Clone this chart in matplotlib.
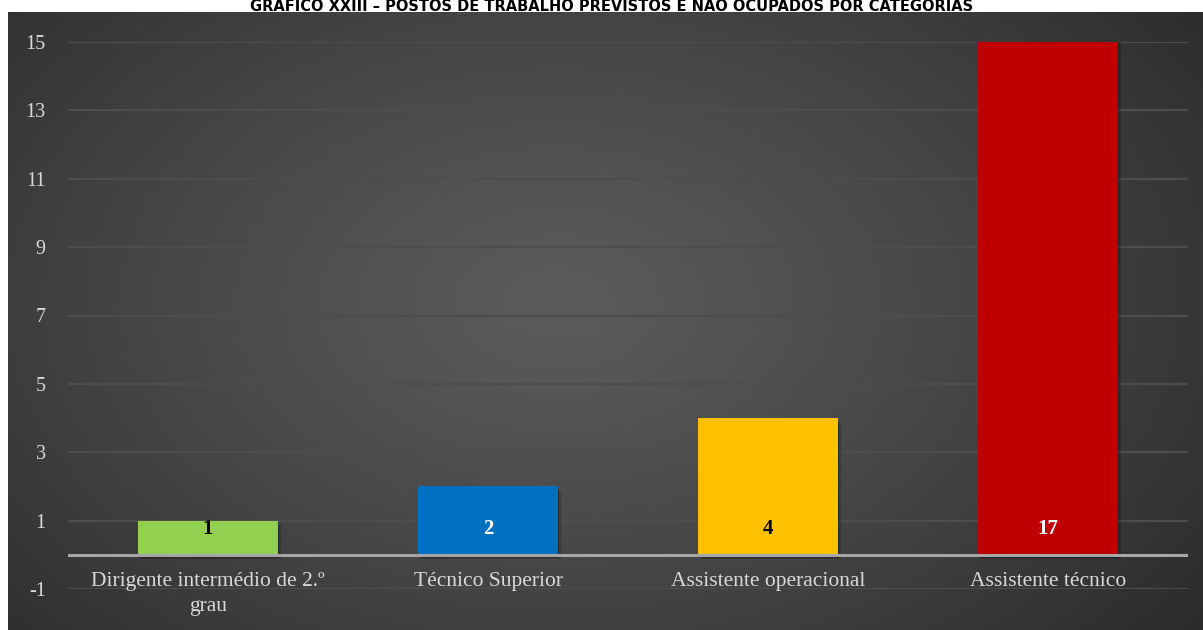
import matplotlib

matplotlib.use("Agg")
import matplotlib.pyplot as plt
import matplotlib.patheffects as pe
import numpy as np

# ---------- Data ----------
categories = ["Dirigente intermédio de 2.º\ngrau", "Técnico Superior",
              "Assistente operacional", "Assistente técnico"]
values = [1, 2, 4, 17]
bar_colors = ["#92d050", "#0070c0", "#ffc000", "#c00000"]
label_colors = ["black", "white", "black", "white"]
yticks = [-1, 1, 3, 5, 7, 9, 11, 13, 15]
title = "GRÁFICO XXIII – POSTOS DE TRABALHO PREVISTOS E NÃO OCUPADOS POR CATEGORIAS"

plt.rcParams["axes.unicode_minus"] = False

W, H = 1203, 630
fig = plt.figure(figsize=(W / 100, H / 100), dpi=100)
fig.patch.set_facecolor("white")

# ---------- radial gradient background ----------
bg = fig.add_axes([8 / W, 0, 1 - 8 / W, (H - 12) / H])
bg.set_axis_off()
gx, gy = np.meshgrid(np.linspace(0, 1, 600), np.linspace(0, 1, 320))
r = np.sqrt(((gx - 0.46) / 0.75) ** 2 + ((gy - 0.47) / 0.95) ** 2)
r = np.clip(r, 0, 1)
inner, outer = 0x5b / 255, 0x25 / 255
shade = inner + (outer - inner) * r ** 1.2
img = np.dstack([shade, shade, shade])
bg.imshow(img, aspect="auto", extent=(0, 1, 0, 1), origin="upper")

# ---------- bars ----------
ax = fig.add_axes([68 / W, (H - 589) / H, (1188 - 68) / W, (589 - 42) / H])
ax.set_facecolor("none")
x = np.arange(len(categories))
bars = ax.bar(x, values, width=0.5, color=bar_colors, zorder=3)
for b in bars:
    b.set_path_effects([pe.SimplePatchShadow(offset=(2, -3), alpha=0.18,
                                             shadow_rgbFace="black"),
                        pe.SimplePatchShadow(offset=(1, -2), alpha=0.25,
                                             shadow_rgbFace="black"),
                        pe.Normal()])

ax.set_xlim(-0.5, len(categories) - 0.5)
ax.set_ylim(-1, 15)
ax.set_yticks(yticks)
ax.set_xticks([])
ax.grid(axis="y", color="#4d4d4d", linewidth=1.6, zorder=0)
ax.axhline(0, color="#a6a6a6", linewidth=2.2, zorder=4)
for s in ax.spines.values():
    s.set_visible(False)
ax.tick_params(axis="y", length=0, colors="#d9d9d9", labelsize=14.5, pad=16)
for lab in ax.get_yticklabels():
    lab.set_family("Liberation Serif")

for xi, val, lc in zip(x, values, label_colors):
    ax.text(xi, 0.75, f"{val}", ha="center", va="center", color=lc,
            fontsize=15, fontweight="bold", family="Liberation Serif", zorder=5)

for xi, cat in zip(x, categories):
    ax.text(xi, -0.5, cat, ha="center", va="top", color="#d9d9d9",
            fontsize=15.5, family="Liberation Serif", linespacing=1.45,
            zorder=5, clip_on=False)

# title in the white strip above the chart
fig.text(0.508, 1 - 11 / H, title, ha="center", va="baseline",
         fontsize=10.5, fontweight="bold", family="DejaVu Sans", color="black")

fig.savefig("out.png", dpi=100)
